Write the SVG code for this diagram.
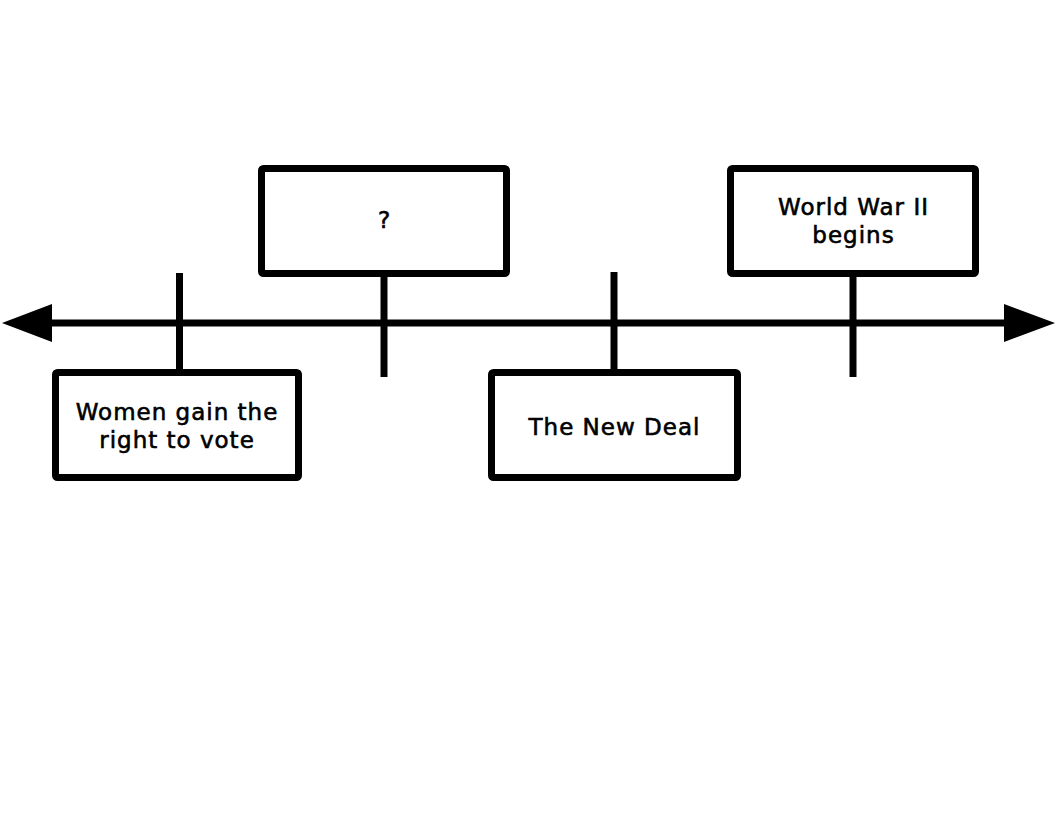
<svg xmlns="http://www.w3.org/2000/svg" width="1056" height="816" viewBox="0 0 1056 816">
<style>
.box{fill:#fff;stroke:#000;stroke-width:7;stroke-linejoin:round}
.tick{stroke:#000;stroke-width:7;fill:none}
.lbl{font-family:"DejaVu Sans",sans-serif;font-size:23px;fill:#000;stroke:#000;stroke-width:0.6;letter-spacing:1px;text-anchor:middle}
</style>
<rect width="1056" height="816" fill="#fff"/>
<g id="connectors">
<line class="tick" x1="52" y1="323" x2="1006" y2="323"/>
<polygon points="2,323 52,304 52,342" fill="#000"/>
<polygon points="1055,323 1004,304 1004,342" fill="#000"/>
<line class="tick" x1="179.5" y1="273" x2="179.5" y2="372"/>
<line class="tick" x1="384" y1="274" x2="384" y2="377"/>
<line class="tick" x1="614" y1="272" x2="614" y2="372"/>
<line class="tick" x1="853" y1="274" x2="853" y2="377"/>
</g>
<g id="node-women">
<rect class="box" x="55.5" y="372.5" width="243" height="105" rx="2"/>
<text class="lbl" x="177" y="420">Women gain the</text>
<text class="lbl" x="177" y="448">right to vote</text>
</g>
<g id="node-unknown">
<rect class="box" x="261.5" y="168.5" width="245" height="105" rx="2"/>
<text class="lbl" x="384.5" y="228">?</text>
</g>
<g id="node-newdeal">
<rect class="box" x="491.5" y="372.5" width="246" height="105" rx="2"/>
<text class="lbl" x="614.5" y="435">The New Deal</text>
</g>
<g id="node-ww2">
<rect class="box" x="730.5" y="168.5" width="245" height="105" rx="2"/>
<text class="lbl" x="853.5" y="215">World War II</text>
<text class="lbl" x="853.5" y="243">begins</text>
</g>
</svg>
